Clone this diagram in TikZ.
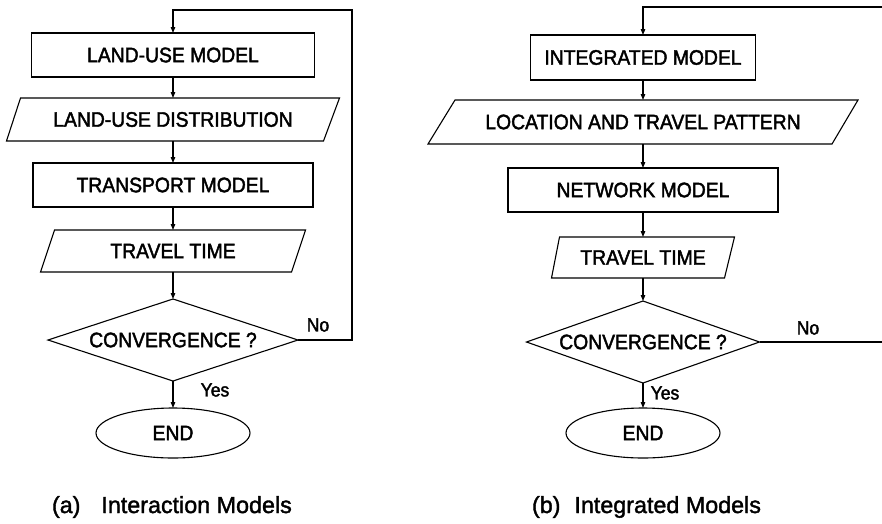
\documentclass[tikz,border=0pt]{standalone}
\usepackage{fontspec}
\setmainfont{Liberation Sans}[FakeBold=1.6]
\newfontfamily\boxfont{Liberation Sans}[FakeStretch=0.92,FakeBold=2]
\usetikzlibrary{shapes.geometric,arrows.meta,calc}

\begin{document}
\begin{tikzpicture}[x=1pt,y=-1pt,
  line width=1.1pt,
  every node/.style={inner sep=0pt,outer sep=0pt},
  boxtext/.style={font=\boxfont\fontsize{21}{25}\selectfont},
  procbox/.style={boxtext,draw,rectangle,minimum height=44pt},
  iobox/.style={boxtext,rectangle,minimum height=43pt},
  decision/.style={boxtext,draw,diamond,minimum height=82pt},
  terminal/.style={boxtext,draw,ellipse,minimum width=154pt,minimum height=50pt},
  lbl/.style={font=\boxfont\fontsize{19}{23}\selectfont},
  caption/.style={font=\fontsize{23.3}{28}\selectfont,anchor=west},
  arr/.style={-{Triangle[length=6pt,width=4.5pt]}},
]
\path[use as bounding box] (0,0) rectangle (882,523);

% ---------- (a) interaction models ----------
\node[procbox,minimum width=283pt] (b1) at (173,55) {LAND-USE MODEL};
\node[iobox,minimum width=333pt] (p1) at (173,119.5) {LAND-USE DISTRIBUTION};
\draw ($(p1.north west)+(14,0)$) -- (p1.north east) -- ($(p1.south east)-(16,0)$) -- (p1.south west) -- cycle;
\node[procbox,minimum width=280pt] (b2) at (173,185) {TRANSPORT MODEL};
\node[iobox,minimum width=265pt,minimum height=42pt] (p2) at (173,251) {TRAVEL TIME};
\draw ($(p2.north west)+(14,0)$) -- (p2.north east) -- ($(p2.south east)-(14,0)$) -- (p2.south west) -- cycle;
\node[decision,shape aspect=3.05,minimum width=250pt] (d1) at (173,340) {CONVERGENCE ?};
\node[terminal] (e1) at (173,433) {END};
\coordinate (c1) at (352,10);

\draw[arr] (b1.south) -- (p1.north);
\draw[arr] (p1.south) -- (b2.north);
\draw[arr] (b2.south) -- (p2.north);
\draw[arr] (p2.south) -- (d1.north);
\draw[arr] (d1.south) -- (e1.north);
\draw[arr] (d1.east) -| (c1) -| (b1.north);
\node[lbl] (no1) at (318,325) {No};
\node[lbl] (yes1) at (215,390) {Yes};
\node[caption] (cap1) at (52,507) {(a)\hspace{0.9em}Interaction Models};

% ---------- (b) integrated models ----------
\node[procbox,minimum width=225pt,minimum height=45pt] (b3) at (643,57.5) {INTEGRATED MODEL};
\node[iobox,minimum width=430pt,minimum height=44pt] (p3) at (643,122) {LOCATION AND TRAVEL PATTERN};
\draw ($(p3.north west)+(27,0)$) -- (p3.north east) -- ($(p3.south east)-(26,0)$) -- (p3.south west) -- cycle;
\node[procbox,minimum width=270pt] (b4) at (643,190) {NETWORK MODEL};
\node[iobox,minimum width=183pt,minimum height=41pt] (p4) at (643,257.5) {TRAVEL TIME};
\draw ($(p4.north west)+(8,0)$) -- (p4.north east) -- ($(p4.south east)-(10,0)$) -- (p4.south west) -- cycle;
\node[decision,shape aspect=2.84,minimum width=233pt] (d2) at (643,342) {CONVERGENCE ?};
\node[terminal] (e2) at (643,433) {END};
\coordinate (c2) at (882,7);
\coordinate (c3) at (882,342);

\draw[arr] (b3.south) -- (p3.north);
\draw[arr] (p3.south) -- (b4.north);
\draw[arr] (b4.south) -- (p4.north);
\draw[arr] (p4.south) -- (d2.north);
\draw[arr] (d2.south) -- (e2.north);
\draw (d2.east) -- (c3);
\draw[arr] (c2) -| (b3.north);
\node[lbl] (no2) at (808,328) {No};
\node[lbl] (yes2) at (665,393) {Yes};
\node[caption] (cap2) at (532,507) {(b)\hspace{0.6em}Integrated Models};
\end{tikzpicture}
\end{document}
